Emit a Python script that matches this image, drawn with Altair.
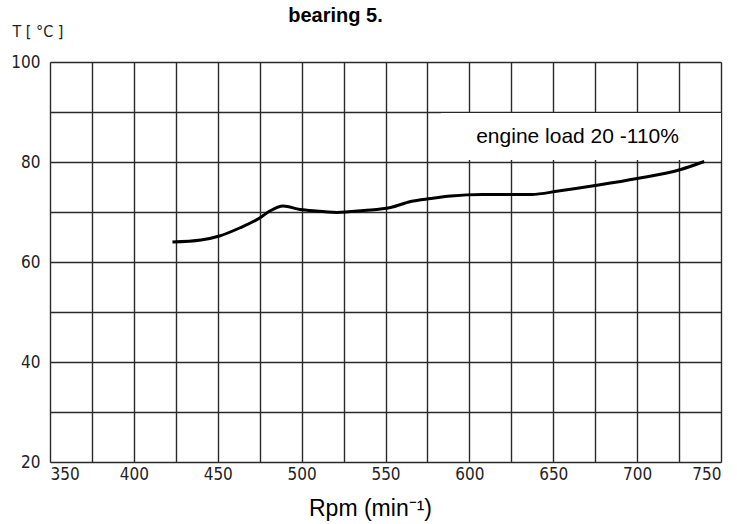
import altair as alt
import pandas as pd

# Curve
rpm = [423, 440, 451, 463, 475, 481, 489, 499, 505, 521, 537, 553, 565, 577, 589,
       608, 637, 653, 677, 700, 726, 740]
temp = [64.0, 64.4, 65.2, 66.8, 68.8, 70.2, 71.2, 70.5, 70.3, 69.9, 70.3, 70.9, 72.1,
        72.7, 73.2, 73.5, 73.5, 74.2, 75.4, 76.7, 78.5, 80.1]

x_ticks = list(range(350, 751, 25))
y_ticks = list(range(20, 101, 10))

label_text = ["engine load 20 -110%"]

df = pd.DataFrame({"rpm": rpm, "temp": temp})

tick_font = "Liberation Sans Narrow, DejaVu Sans Condensed, sans-serif"

x_scale = alt.Scale(domain=[350, 750], nice=False, zero=False)
y_scale = alt.Scale(domain=[20, 100], nice=False, zero=False)

x_axis = alt.Axis(
    values=x_ticks,
    labelExpr="datum.value % 50 == 0 ? datum.label : ''",
    grid=True, gridColor="#2a2a2a", gridWidth=1.4,
    ticks=False, domain=False,
    labelFont=tick_font, labelFontSize=17, labelColor="#222", labelPadding=4,
    title="Rpm (min⁻¹)", titleFont="Liberation Sans", titleFontSize=23,
    titleFontWeight="normal", titleColor="black", titlePadding=15,
    titleX=320,
)
y_axis = alt.Axis(
    values=y_ticks,
    labelExpr="datum.value % 20 == 0 ? datum.label : ''",
    grid=True, gridColor="#2a2a2a", gridWidth=1.4,
    ticks=False, domain=False,
    labelFont=tick_font, labelFontSize=17, labelColor="#222", labelPadding=10,
    title="T [ °C ]", titleFont=tick_font, titleFontSize=16, titleFontWeight="normal",
    titleColor="#222", titleAngle=0, titleAlign="left", titleBaseline="middle",
    titleX=-38, titleY=-31,
)

line = alt.Chart(df).mark_line(
    color="black", strokeWidth=3, interpolate="monotone"
).encode(
    x=alt.X("rpm:Q", scale=x_scale, axis=x_axis),
    y=alt.Y("temp:Q", scale=y_scale, axis=y_axis),
)

box_df = pd.DataFrame({"x": [583], "x2": [750], "y": [80.4], "y2": [89.8],
                       "tx": [664.5], "ty": [85.0], "label": label_text})

box = alt.Chart(box_df).mark_rect(color="white").encode(
    x=alt.X("x:Q", scale=x_scale), x2="x2:Q",
    y=alt.Y("y:Q", scale=y_scale), y2="y2:Q",
)
text = alt.Chart(box_df).mark_text(
    font="Liberation Sans", fontSize=21, color="black", baseline="middle", align="center"
).encode(
    x=alt.X("tx:Q", scale=x_scale),
    y=alt.Y("ty:Q", scale=y_scale),
    text="label:N",
)

chart = alt.layer(box, line, text).properties(
    width=671, height=400,
    title=alt.TitleParams(
        text="bearing 5.", font="Liberation Sans", fontSize=20, fontWeight="bold",
        color="black", anchor="middle", dx=-50, offset=-3, frame="group",
    ),
    autosize=alt.AutoSizeParams(type="none"),
    padding={"left": 50, "top": 62, "right": 16, "bottom": 62},
).configure_view(
    stroke="black", strokeWidth=1.5
).configure(background="white")

chart.save("out.html", embed_options={"renderer": "svg", "actions": False})
